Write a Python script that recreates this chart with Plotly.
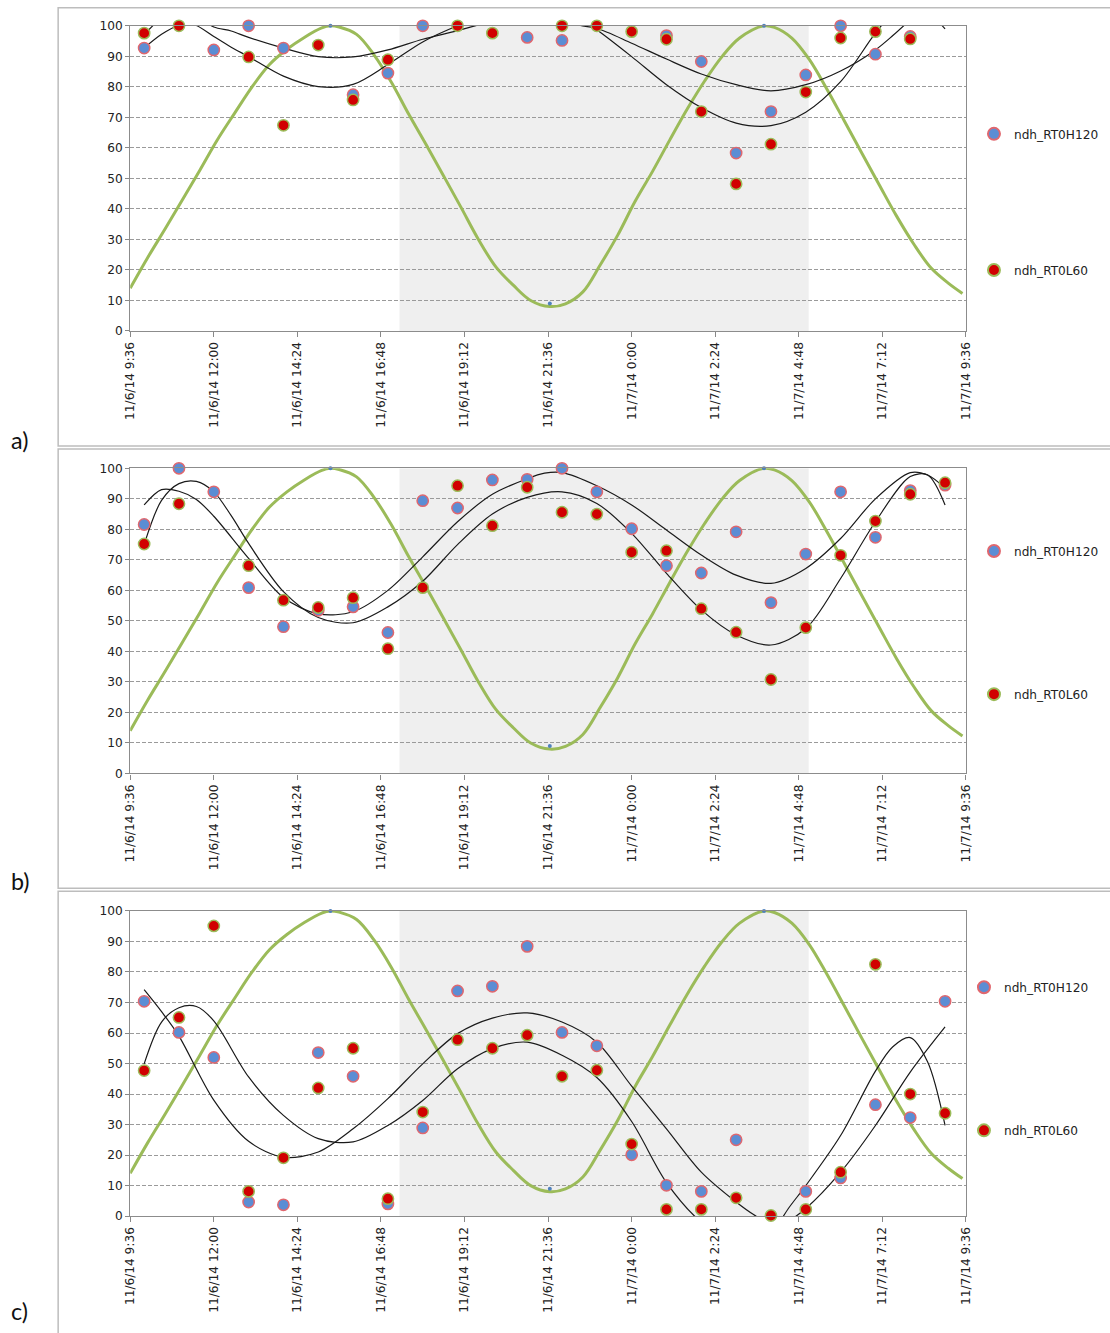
import plotly.graph_objects as go

# ---------------- data ----------------
def to_dt(hm):
    h, m = map(int, hm.split(":"))
    day = "2014-11-06" if (h, m) >= (9, 36) else "2014-11-07"
    return f"{day} {h:02d}:{m:02d}"

sample_times = ["10:00", "11:00", "12:00", "13:00", "14:00", "15:00", "16:00", "17:00",
                "18:00", "19:00", "20:00", "21:00", "22:00", "23:00", "00:00", "01:00",
                "02:00", "03:00", "04:00", "05:00", "06:00", "07:00", "08:00", "09:00"]

series_names = ["ndh_RT0H120", "ndh_RT0L60"]

a_h120 = [92.7, None, 92.1, 100, 92.7, None, 77.4, 84.5, 100, None, None, 96.2,
          95.2, None, None, 96.8, 88.3, 58.3, 71.9, 83.9, 100, 90.7, 96.5, None]
a_l60 = [97.6, 100, None, 89.8, 67.4, 93.7, 75.7, 88.9, None, 100, 97.6, None,
         100, 100, 98.1, 95.6, 71.9, 48.2, 61.2, 78.3, 96.0, 98.1, 95.7, None]

b_h120 = [81.6, 100, 92.3, 60.9, 48.1, 53.5, 54.6, 46.2, 89.4, 87.0, 96.2, 96.4,
          100, 92.3, 80.2, 68.1, 65.7, 79.2, 56.0, 71.9, 92.3, 77.4, 92.7, 94.5]
b_l60 = [75.2, 88.4, None, 68.1, 56.8, 54.4, 57.6, 40.9, 60.9, 94.3, 81.2, 93.8,
         85.6, 85.0, 72.5, 73.0, 54.0, 46.3, 30.8, 47.8, 71.5, 82.7, 91.5, 95.3]

c_h120 = [70.4, 60.2, 52.0, 4.6, 3.7, 53.6, 45.8, 4.0, 28.9, 73.8, 75.3, 88.4,
          60.2, 55.8, 20.1, 10.1, 8.1, 25.0, None, 8.1, 12.5, 36.5, 32.3, 70.4]
c_l60 = [47.7, 65.1, 95.1, 8.1, 19.1, 42.0, 55.0, 5.7, 34.1, 57.8, 55.0, 59.3,
         45.8, 47.8, 23.6, 2.2, 2.2, 6.0, 0.2, 2.2, 14.4, 82.5, 40.0, 33.7]

# trendlines (parts above 100 / below 0 are clipped)
a_fit1_t = ["10:00", "10:30", "11:00", "11:30", "12:00", "12:30", "13:00", "14:00", "15:00",
            "16:00", "17:00", "18:00", "19:00", "20:00", "21:00", "22:00", "22:30", "23:00",
            "00:00", "01:00", "02:00", "03:00", "04:00", "05:00", "06:00", "07:00", "07:30", "08:00"]
a_fit1_v = [97.0, 102.5, 104.5, 103.0, 99.6, 98.3, 96.2, 92.7, 89.9,
            89.8, 92.1, 95.6, 98.4, 101.5, 103.5, 102.5, 100.2, 99.2,
            94.3, 89.1, 84.2, 80.7, 78.7, 80.7, 85.2, 92.1, 96.8, 102.0]
a_fit2_t = ["10:00", "10:30", "11:00", "11:15", "11:30", "12:00", "12:30", "13:00", "14:00",
            "15:00", "16:00", "17:00", "18:00", "19:00", "20:00", "21:00", "22:00", "22:50",
            "23:00", "00:00", "01:00", "02:00", "03:00", "04:00", "05:00", "06:00", "07:00",
            "07:30", "08:00", "08:30", "09:00"]
a_fit2_v = [92.7, 97.2, 100.2, 100.6, 100.1, 96.5, 93.0, 89.9, 83.5,
            80.1, 80.8, 87.3, 94.7, 100.0, 104.0, 105.0, 103.0, 100.0,
            98.7, 89.9, 80.7, 73.2, 68.1, 67.3, 71.7, 81.7, 97.6,
            104.0, 106.5, 104.5, 99.0]

b_fit1_t = ["10:00", "10:30", "11:00", "11:30", "12:00", "13:00", "14:00", "15:00", "16:00",
            "17:00", "18:00", "19:00", "20:00", "21:00", "21:30", "22:00", "23:00", "00:00",
            "01:00", "02:00", "03:00", "04:00", "05:00", "06:00", "07:00", "08:00", "08:30", "09:00"]
b_fit1_v = [88.0, 93.0, 92.5, 89.8, 84.3, 70.5, 57.7, 52.3, 53.0,
            60.0, 71.0, 82.5, 91.5, 96.6, 98.4, 98.6, 94.3, 88.0,
            79.8, 71.6, 65.0, 62.3, 67.2, 77.0, 90.0, 98.6, 97.8, 93.5]
b_fit2_t = ["10:00", "10:30", "11:00", "11:30", "12:00", "12:30", "13:00", "14:00", "15:00",
            "16:00", "17:00", "18:00", "19:00", "20:00", "21:00", "22:00", "23:00", "00:00",
            "01:00", "02:00", "03:00", "04:00", "05:00", "06:00", "07:00", "08:00", "08:30", "09:00"]
b_fit2_v = [75.0, 89.5, 95.0, 95.7, 92.3, 84.5, 75.4, 59.6, 51.1,
            49.4, 54.6, 63.0, 75.0, 85.0, 90.5, 92.3, 88.5, 78.7,
            65.6, 53.6, 45.4, 42.1, 47.5, 63.9, 82.5, 97.3, 97.8, 88.0]

c_fit1_t = ["10:00", "10:30", "11:00", "11:30", "12:00", "13:00", "14:00", "15:00", "16:00",
            "17:00", "18:00", "19:00", "20:00", "21:00", "22:00", "23:00", "00:00", "01:00",
            "02:00", "03:00", "03:30", "04:00", "04:30", "05:00", "06:00", "07:00", "07:30",
            "08:00", "08:30", "09:00"]
c_fit1_v = [49.9, 63.6, 68.3, 68.7, 64.0, 45.6, 33.0, 25.4, 24.3,
            29.7, 37.9, 48.3, 54.9, 57.0, 52.7, 45.4, 31.0, 11.0,
            -2.0, -9.0, -10.0, -6.0, 2.5, 10.0, 26.4, 47.5, 55.5,
            58.5, 50.5, 29.7]
c_fit2_t = ["10:00", "10:30", "11:00", "12:00", "13:00", "14:00", "15:00", "16:00", "17:00",
            "18:00", "19:00", "20:00", "21:00", "22:00", "23:00", "00:00", "01:00", "02:00",
            "03:00", "03:30", "04:00", "04:30", "05:00", "06:00", "07:00", "08:00", "09:00"]
c_fit2_v = [74.2, 67.0, 59.0, 38.0, 24.5, 19.3, 21.0, 28.6, 38.5,
            49.9, 59.8, 64.9, 66.6, 63.6, 57.0, 42.6, 28.6, 14.4,
            4.6, 0.5, -2.5, -1.5, 2.5, 14.4, 29.7, 47.2, 62.0]

# tide curve (same in all three panels)
tide_t = ["09:36", "10:06", "10:36", "11:06", "11:36", "12:06", "12:36", "13:06", "13:36",
          "14:06", "14:36", "15:06", "15:21", "15:36", "16:06", "16:36", "17:06", "17:36",
          "18:06", "18:36", "19:06", "19:36", "20:06", "20:36", "21:06", "21:39", "22:06",
          "22:36", "23:06", "23:36", "00:06", "00:36", "01:06", "01:36", "02:06", "02:36",
          "03:06", "03:48", "04:06", "04:36", "05:06", "05:36", "06:06", "06:36", "07:06",
          "07:36", "08:06", "08:36", "09:06", "09:30"]
tide_v = [14.0, 24.0, 33.4, 43.0, 52.7, 62.6, 71.4, 80.0, 87.3,
          92.3, 96.2, 99.3, 100.0, 99.6, 97.2, 90.5, 81.5, 71.0,
          61.0, 50.8, 40.5, 30.0, 21.0, 15.0, 10.0, 8.0, 8.9,
          12.8, 21.7, 31.4, 42.5, 52.3, 62.7, 72.8, 82.0, 90.0,
          96.0, 100.0, 99.5, 96.0, 89.0, 79.4, 69.0, 58.5, 48.1,
          37.8, 28.5, 20.6, 15.6, 12.3]
tide_ext_t = ["15:21", "21:39", "03:48"]
tide_ext_v = [100, 9, 100]

night_start, night_end = "17:20", "05:05"

tick_vals = ["2014-11-06 09:36", "2014-11-06 12:00", "2014-11-06 14:24", "2014-11-06 16:48",
             "2014-11-06 19:12", "2014-11-06 21:36", "2014-11-07 00:00", "2014-11-07 02:24",
             "2014-11-07 04:48", "2014-11-07 07:12", "2014-11-07 09:36"]
tick_text = ["11/6/14 9:36", "11/6/14 12:00", "11/6/14 14:24", "11/6/14 16:48",
             "11/6/14 19:12", "11/6/14 21:36", "11/7/14 0:00", "11/7/14 2:24",
             "11/7/14 4:48", "11/7/14 7:12", "11/7/14 9:36"]
y_ticks = [0, 10, 20, 30, 40, 50, 60, 70, 80, 90, 100]
panel_labels = ["a)", "b)", "c)"]

# ---------------- styling / layout ----------------
W, H = 1110, 1333
# measured mapping page-pixel -> photographed pixel (scale, offset), used to place layout boxes
SX, BX = 0.9865, 6.9
SY, BY = 0.989, 7.2
FS = 1.0 / 0.987            # font compensation for that scale
FONT = "DejaVu Sans"
BLUE, BLUE_EDGE = "#5B8DD4", "#E0676E"
RED, RED_EDGE = "#D10000", "#9BBB59"
GREEN = "#9BBB59"


def fx(px):                  # target picture x -> paper fraction
    return ((px - BX) / SX) / W


def fy(py):                  # target picture y -> paper fraction
    return 1 - ((py - BY) / SY) / H


plot_rows = [(26, 331), (468.3, 773.3), (910.7, 1215.7)]
plot_x = (130, 965)
boxes = [(7.9, 446), (449, 888), (891, 1345)]
label_y = [440, 881, 1311]
legend_px = [((973, 134), (973, 270)), ((973, 551), (973, 694)), ((963, 987), (963, 1130))]

panels = [
    (a_h120, a_l60, [(a_fit1_t, a_fit1_v), (a_fit2_t, a_fit2_v)]),
    (b_h120, b_l60, [(b_fit1_t, b_fit1_v), (b_fit2_t, b_fit2_v)]),
    (c_h120, c_l60, [(c_fit1_t, c_fit1_v), (c_fit2_t, c_fit2_v)]),
]

fig = go.Figure()
xs = [to_dt(t) for t in sample_times]
legend_ids = ["legend", "legend2", "legend3", "legend4", "legend5", "legend6"]

for i, (hv, lv, fits) in enumerate(panels):
    xa = "x" if i == 0 else f"x{i+1}"
    ya = "y" if i == 0 else f"y{i+1}"
    fig.add_trace(go.Scatter(x=[to_dt(t) for t in tide_t], y=tide_v, mode="lines",
                             line=dict(color=GREEN, width=3, shape="spline", smoothing=1.0),
                             xaxis=xa, yaxis=ya, showlegend=False, hoverinfo="skip"))
    fig.add_trace(go.Scatter(x=[to_dt(t) for t in tide_ext_t], y=tide_ext_v, mode="markers",
                             marker=dict(color="#4F81BD", size=4), cliponaxis=False,
                             xaxis=xa, yaxis=ya, showlegend=False, hoverinfo="skip"))
    for ft, fv in fits:
        fig.add_trace(go.Scatter(x=[to_dt(t) for t in ft], y=fv, mode="lines",
                                 line=dict(color="#1a1a1a", width=1.2, shape="spline", smoothing=0.9),
                                 xaxis=xa, yaxis=ya, showlegend=False, hoverinfo="skip"))
    fig.add_trace(go.Scatter(x=xs, y=hv, mode="markers", name=series_names[0],
                             marker=dict(color=BLUE, size=11.3, line=dict(color=BLUE_EDGE, width=1.5)),
                             cliponaxis=False, xaxis=xa, yaxis=ya,
                             legend=legend_ids[2 * i]))
    fig.add_trace(go.Scatter(x=xs, y=lv, mode="markers", name=series_names[1],
                             marker=dict(color=RED, size=11.3, line=dict(color=RED_EDGE, width=1.5)),
                             cliponaxis=False, xaxis=xa, yaxis=ya,
                             legend=legend_ids[2 * i + 1]))
    fig.add_shape(type="rect", xref=xa, yref=ya, x0=to_dt(night_start), x1=to_dt(night_end),
                  y0=0, y1=100, fillcolor="#EFEFEF", line=dict(width=0), layer="below")

layout = dict(
    width=W, height=H, margin=dict(l=0, r=0, t=0, b=0),
    paper_bgcolor="white", plot_bgcolor="white",
    font=dict(family=FONT, size=12 * FS, color="#222"),
    showlegend=True,
)

for i, (top, bot) in enumerate(plot_rows):
    sfx = "" if i == 0 else str(i + 1)
    layout["xaxis" + sfx] = dict(
        type="date", domain=[fx(plot_x[0]), fx(plot_x[1])],
        anchor="y" + sfx, range=["2014-11-06 09:36", "2014-11-07 09:36"],
        tickmode="array", tickvals=tick_vals, ticktext=tick_text, tickangle=-90,
        ticks="outside", ticklen=5, tickcolor="#888", showgrid=False, zeroline=False,
        showline=True, linecolor="#8c8c8c", linewidth=1.3, mirror=True,
        tickfont=dict(family=FONT, size=12 * FS, color="#222"),
    )
    layout["yaxis" + sfx] = dict(
        domain=[fy(bot), fy(top)], anchor="x" + sfx, range=[0, 100],
        tickmode="array", tickvals=y_ticks, ticks="outside", ticklen=4, tickcolor="#888",
        showgrid=True, gridcolor="#9a9a9a", griddash="4px,2px", gridwidth=1,
        zeroline=False, showline=True, linecolor="#8c8c8c", linewidth=1.3, mirror=True,
        tickfont=dict(family=FONT, size=12 * FS, color="#222"),
    )

for i in range(3):
    for j in range(2):
        lx, ly = legend_px[i][j]
        layout[legend_ids[2 * i + j]] = dict(
            x=fx(lx), y=fy(ly), xanchor="left", yanchor="middle",
            bgcolor="rgba(0,0,0,0)", borderwidth=0, itemsizing="constant",
            font=dict(family=FONT, size=12 * FS, color="#222"), itemclick=False,
        )

fig.update_layout(**layout)

for i, (top, bot) in enumerate(boxes):
    fig.add_shape(type="rect", xref="paper", yref="paper",
                  x0=fx(58), x1=1.03, y0=fy(bot), y1=fy(top),
                  line=dict(color="#BDBDBD", width=1.5), fillcolor="rgba(0,0,0,0)", layer="above")
    fig.add_annotation(x=fx(9), y=fy(label_y[i]), xref="paper", yref="paper",
                       text=panel_labels[i], showarrow=False, xanchor="left", yanchor="middle",
                       font=dict(family="Lato", size=23 * FS, color="#111"))

fig.write_html("out.html", include_plotlyjs=True, config={"displayModeBar": False},
               post_script="document.body.style.margin='0';")
